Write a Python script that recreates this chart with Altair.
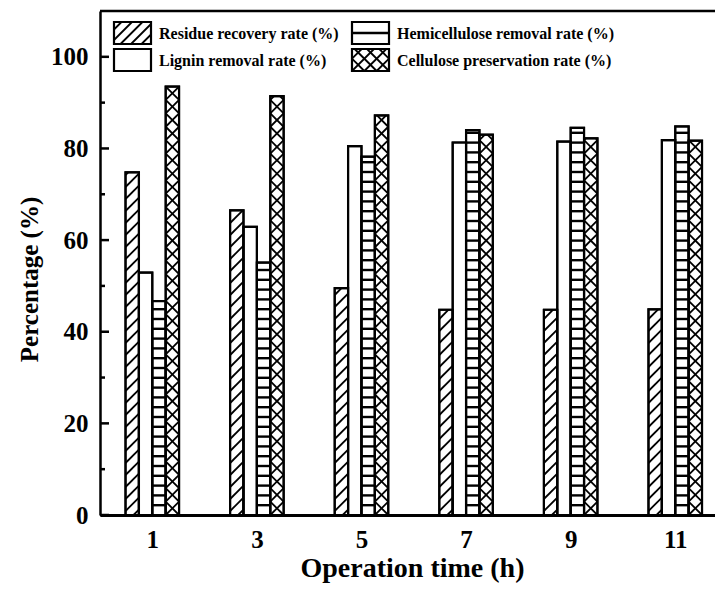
import altair as alt
import pandas as pd

# ---------------- data ----------------
hours = [1, 3, 5, 7, 9, 11]
series = [
    "Residue recovery rate (%)",
    "Lignin removal rate  (%)",
    "Hemicellulose removal rate (%)",
    "Cellulose preservation rate (%)",
]
residue = [74.8, 66.5, 49.5, 44.8, 44.8, 44.9]
lignin = [52.9, 62.9, 80.5, 81.3, 81.5, 81.8]
hemi = [46.7, 55.1, 78.2, 84.0, 84.5, 84.8]
cellulose = [93.5, 91.4, 87.2, 83.0, 82.2, 81.7]
y_ticks = [0, 20, 40, 60, 80, 100]
y_minor = [10, 30, 50, 70, 90]

# ---------------- layout ----------------
W, H = 615, 504
XMAX, YMAX = 11.76, 110
KX, KY = W / XMAX, H / YMAX          # pixels per data unit
BW = 0.256                            # bar width in hours
OFFS = [-1.5, -0.5, 0.5, 1.5]
PATTERNS = ["diag", "none", "horiz", "cross"]
FONT = "Liberation Serif"

values = [residue, lignin, hemi, cellulose]


def diag_up(x0, x1, y0, y1, s, phase=0.0):
    out = []
    d = (y0 - x0) + phase
    while d > y0 - x1:
        d -= s
    while d < y1 - x0:
        lo, hi = max(x0, y0 - d), min(x1, y1 - d)
        if hi - lo > 0.3:
            out.append((lo, lo + d, hi, hi + d))
        d += s
    return out


def diag_down(x0, x1, y0, y1, s, phase=0.0):
    out = []
    d = (x0 + y0) + phase
    while d > x0 + y0:
        d -= s
    while d < x1 + y1:
        lo, hi = max(x0, d - y1), min(x1, d - y0)
        if hi - lo > 0.3:
            out.append((lo, d - lo, hi, d - hi))
        d += s
    return out


def horiz(x0, x1, y0, y1, s):
    out = []
    y = y0 + s
    while y < y1 - 0.8:
        out.append((x0, y, x1, y))
        y += s
    return out


def pattern_segments(kind, x0, x1, y0, y1, hs=9.8, ds=12.0, cs=None):
    w = x1 - x0
    if kind == "diag":
        return diag_up(x0, x1, y0, y1, ds, 4.0)
    if kind == "horiz":
        return horiz(x0, x1, y0, y1, hs)
    if kind == "cross":
        s = cs if cs else w
        return diag_up(x0, x1, y0, y1, s) + diag_down(x0, x1, y0, y1, s)
    return []


bar_rows, seg_rows = [], []
for si, name in enumerate(series):
    for hi_, h in enumerate(hours):
        v = values[si][hi_]
        c = h + OFFS[si] * BW
        xa, xb = c - BW / 2, c + BW / 2
        bar_rows.append({"series": name, "hour": h, "x0": xa, "x1": xb, "y0": 0, "v": v})
        for (a, b, cc, d) in pattern_segments(PATTERNS[si], xa * KX, xb * KX, 0, v * KY):
            seg_rows.append({"kind": PATTERNS[si], "xa": a / KX, "ya": b / KY, "xb": cc / KX, "yb": d / KY})

bars = pd.DataFrame(bar_rows)
segs = pd.DataFrame(seg_rows)

# ---------------- legend (pixel layout inside the plot, top-down) ----------------
LEG_BOX = [(14, 11), (14, 38), (252, 11), (252, 38)]   # residue, lignin, hemi, cellulose
BOXW, BOXH = 37, 22
leg_rows, leg_seg_rows, leg_text_rows = [], [], []
for si in range(4):
    lx, ly = LEG_BOX[si]
    x0, x1 = lx, lx + BOXW
    y1b, y0b = H - ly, H - ly - BOXH
    leg_rows.append({"x0": x0 / KX, "x1": x1 / KX, "y0": y0b / KY, "y1": y1b / KY})
    for (a, b, cc, d) in pattern_segments(PATTERNS[si], x0, x1, y0b, y1b, hs=11.0, ds=10.5, cs=12.33):
        leg_seg_rows.append({"kind": PATTERNS[si], "xa": a / KX, "ya": b / KY, "xb": cc / KX, "yb": d / KY})
    leg_text_rows.append({"label": series[si], "tx": lx + 45, "ty": ly + 16.5})

leg = pd.DataFrame(leg_rows)
leg_segs = pd.DataFrame(leg_seg_rows)

xscale = alt.Scale(domain=[0, XMAX], nice=False, zero=False)
yscale = alt.Scale(domain=[0, YMAX], nice=False, zero=False)

x_axis = alt.Axis(
    values=hours, title="Operation time (h)", labelFont=FONT, labelFontSize=25,
    labelFontWeight="bold", labelColor="black", labelPadding=12, tickSize=0, ticks=False,
    domainColor="black", domainWidth=3, grid=False, titleFont=FONT, titleFontSize=28,
    titleFontWeight="bold", titleColor="black", titlePadding=2, titleX=312,
)
y_axis = alt.Axis(
    values=y_ticks, title="Percentage (%)", labelFont=FONT, labelFontSize=25,
    labelFontWeight="bold", labelColor="black", labelPadding=12, tickSize=0, ticks=False,
    domainColor="black", domainWidth=2.5, grid=False, titleFont=FONT, titleFontSize=25,
    titleFontWeight="bold", titleColor="black", titlePadding=8, titleY=268,
)


def X(f):
    return alt.X(f, scale=xscale, axis=x_axis)


def Y(f):
    return alt.Y(f, scale=yscale, axis=y_axis)


base_bars = alt.Chart(bars).mark_rect(fill="white", stroke="black", strokeWidth=2).encode(
    x=X("x0:Q"), x2="x1:Q", y=Y("y0:Q"), y2="v:Q",
)


def seg_layer(df, kind, width):
    return alt.Chart(df[df["kind"] == kind]).mark_rule(
        color="black", strokeWidth=width, strokeCap="butt"
    ).encode(x=X("xa:Q"), x2="xb:Q", y=Y("ya:Q"), y2="yb:Q")


hatch = [seg_layer(segs, "diag", 1.8), seg_layer(segs, "horiz", 2.4), seg_layer(segs, "cross", 1.8)]

outline = alt.Chart(bars).mark_rect(fillOpacity=0, stroke="black", strokeWidth=2.2).encode(
    x=X("x0:Q"), x2="x1:Q", y=Y("y0:Q"), y2="v:Q",
)

leg_fill = alt.Chart(leg).mark_rect(fill="white").encode(
    x=X("x0:Q"), x2="x1:Q", y=Y("y0:Q"), y2="y1:Q",
)
leg_hatch = [seg_layer(leg_segs, "diag", 1.8), seg_layer(leg_segs, "horiz", 2.4), seg_layer(leg_segs, "cross", 1.8)]
leg_outline = alt.Chart(leg).mark_rect(fillOpacity=0, stroke="black", strokeWidth=2.2).encode(
    x=X("x0:Q"), x2="x1:Q", y=Y("y0:Q"), y2="y1:Q",
)

leg_texts = [
    alt.Chart(pd.DataFrame({"label": [r["label"]]})).mark_text(
        align="left", baseline="alphabetic", font=FONT, fontSize=16, fontWeight="bold", color="black"
    ).encode(text="label:N", x=alt.value(r["tx"]), y=alt.value(r["ty"]))
    for r in leg_text_rows
]

frame_top = alt.Chart(pd.DataFrame({"a": [0], "b": [XMAX], "y": [YMAX]})).mark_rule(
    color="black", strokeWidth=2.5
).encode(x=X("a:Q"), x2="b:Q", y=Y("y:Q"))

major_ticks = alt.Chart(pd.DataFrame({"t": y_ticks})).mark_rule(color="black", strokeWidth=2.5).encode(
    y=Y("t:Q"), x=alt.value(0), x2=alt.value(9)
)
minor_ticks = alt.Chart(pd.DataFrame({"t": y_minor})).mark_rule(color="black", strokeWidth=2.5).encode(
    y=Y("t:Q"), x=alt.value(0), x2=alt.value(5)
)

chart = alt.layer(
    base_bars, *hatch, outline, leg_fill, *leg_hatch, leg_outline, *leg_texts,
    frame_top, major_ticks, minor_ticks,
).properties(
    width=W, height=H,
    autosize=alt.AutoSizeParams(type="none"),
    padding={"left": 92, "top": 3, "right": 0, "bottom": 68},
).configure_view(strokeWidth=0)

chart.save("out.html", embed_options={"renderer": "svg", "actions": False})
